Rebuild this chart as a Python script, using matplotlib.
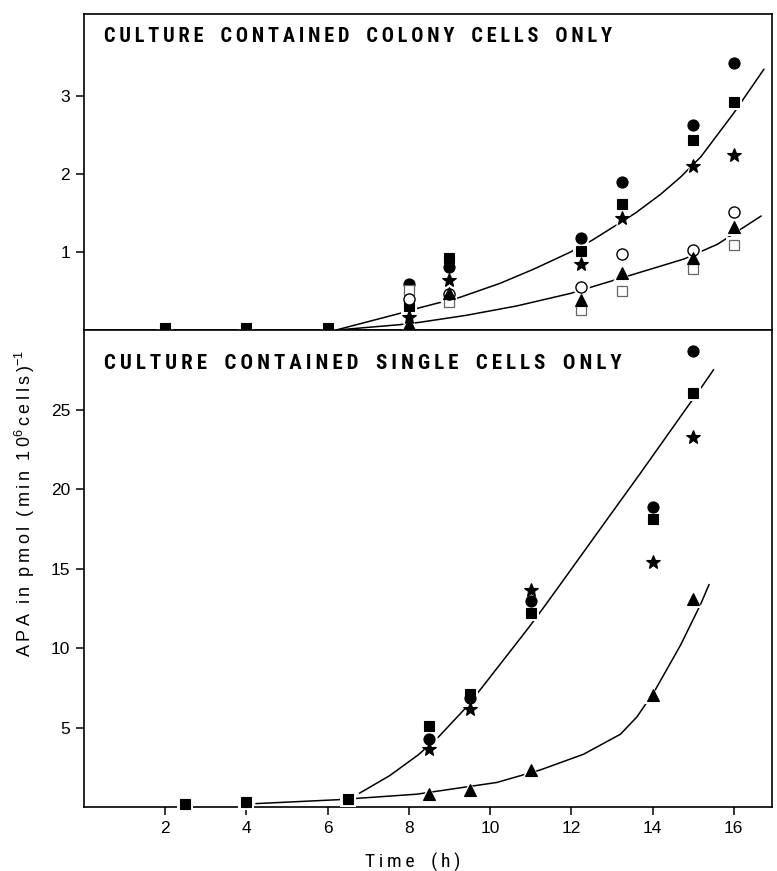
import matplotlib
matplotlib.use("Agg")
import matplotlib.pyplot as plt
import matplotlib.font_manager as fm

plt.rcParams['font.family'] = ['Liberation Sans', 'DejaVu Sans']
plt.rcParams['mathtext.fontset'] = 'custom'
plt.rcParams['mathtext.rm'] = 'Liberation Sans'
plt.rcParams['mathtext.it'] = 'Liberation Sans:italic'

# ---- top panel: colony cells ----
top_sq_time = [2, 4, 6, 8, 9, 12.25, 13.25, 15, 16]
top_sq = [0.03, 0.03, 0.03, 0.31, 0.92, 1.01, 1.61, 2.43, 2.92]
top_time = [8, 9, 12.25, 13.25, 15, 16]
top_circ = [0.59, 0.81, 1.18, 1.90, 2.63, 3.42]
top_osq = [0.51, 0.36, 0.26, 0.50, 0.78, 1.09]
top_ocirc = [0.40, 0.46, 0.55, 0.97, 1.03, 1.51]
top_star = [0.17, 0.64, 0.85, 1.44, 2.10, 2.24]
top_tri = [0.08, 0.48, 0.39, 0.73, 0.92, 1.32]

top_fit1_x = [6.2, 7.82, 8.22, 9.26, 10.25, 11.07, 11.98, 12.51, 13.58, 14.2, 14.69, 15.19, 16.0, 16.74]
top_fit1_y = [0.0, 0.22, 0.28, 0.42, 0.60, 0.78, 1.00, 1.15, 1.50, 1.74, 1.96, 2.22, 2.78, 3.34]
top_fit2_x = [6.2, 7.78, 8.27, 9.42, 10.66, 11.98, 12.55, 13.25, 14.77, 15.6, 16.67]
top_fit2_y = [0.0, 0.07, 0.10, 0.19, 0.31, 0.47, 0.56, 0.67, 0.91, 1.10, 1.46]

# ---- bottom panel: single cells ----
bot_sq_time = [2.5, 4, 6.5, 8.5, 9.5, 11, 14, 15]
bot_sq = [0.23, 0.31, 0.50, 5.11, 7.1, 12.21, 18.14, 26.06]
bot_time = [8.5, 9.5, 11, 14, 15]
bot_circ = [4.32, 6.89, 12.99, 18.87, 28.67]
bot_star = [3.69, 6.18, 13.69, 15.42, 23.26]
bot_tri = [0.82, 1.08, 2.36, 7.07, 13.1]

bot_fit1_x = [6.79, 7.53, 8.23, 8.72, 9.38, 9.79, 10.95, 11.3, 11.81, 12.88, 13.7, 14.81, 15.23, 15.5]
bot_fit1_y = [0.90, 2.0, 3.3, 4.4, 6.2, 7.5, 11.3, 12.5, 14.3, 18.1, 21.0, 25.0, 26.5, 27.5]
bot_fit2_x = [4.24, 6.38, 6.79, 8.19, 10.17, 11.23, 12.3, 13.21, 13.62, 14.07, 14.69, 15.19, 15.39]
bot_fit2_y = [0.24, 0.50, 0.58, 0.83, 1.57, 2.35, 3.34, 4.6, 5.7, 7.4, 10.2, 12.8, 14.0]

x_ticks = [2, 4, 6, 8, 10, 12, 14, 16]
top_yticks = [1, 2, 3]
bot_yticks = [5, 10, 15, 20, 25]


def narrow_font():
    # look for a condensed sans; fall back to plain Liberation Sans
    for fam in ['Liberation Sans Narrow', 'DejaVu Sans Condensed', 'Roboto Condensed',
                'Open Sans Condensed', 'Noto Sans Condensed']:
        try:
            fm.findfont(fm.FontProperties(family=fam), fallback_to_default=False)
            return dict(family=fam)
        except ValueError:
            pass
    for fam in ['Noto Sans', 'DejaVu Sans', 'Roboto', 'Open Sans']:
        p = fm.FontProperties(family=fam, stretch='condensed', weight='bold')
        try:
            f = fm.findfont(p, fallback_to_default=False)
        except ValueError:
            continue
        if 'ondensed' in f or 'arrow' in f:
            return dict(family=fam, stretch='condensed')
    return None


NARROW = narrow_font()


def spaced(s, sep='\u2009'):
    return sep.join(s).replace(sep + ' ' + sep, sep + '  ' + sep)


def pts(ax, x, y, marker, ms, face='black', edge='black', mew=0.8):
    # white halo first so the fitted curves look broken around the symbols
    ax.plot(x, y, ls='none', marker=marker, ms=ms + 4, mfc='white', mec='white',
            mew=0, zorder=3, clip_on=False)
    ax.plot(x, y, ls='none', marker=marker, ms=ms, mfc=face, mec=edge,
            mew=mew, zorder=4, clip_on=False)


fig = plt.figure(figsize=(7.77, 8.71), dpi=100)
left, width = 0.108, 0.886
ax1 = fig.add_axes([left, 0.621, width, 0.363])
ax2 = fig.add_axes([left, 0.073, width, 0.548])

if NARROW:
    title_font = dict(fontweight=600, **NARROW)
    label_font = dict(fontsize=14, fontweight='normal', **NARROW)
    top_title = spaced('CULTURE CONTAINED COLONY CELLS ONLY')
    bot_title = spaced('CULTURE CONTAINED SINGLE CELLS ONLY')
    top_size, bot_size = 14.6, 15.0
else:
    title_font = dict(fontweight='bold')
    label_font = dict(fontsize=13)
    top_title = spaced('CULTURE CONTAINED COLONY CELLS ONLY', '\u200a')
    bot_title = spaced('CULTURE CONTAINED SINGLE CELLS ONLY', '\u200a')
    top_size, bot_size = 13, 13.3

# top panel
ax1.plot(top_fit1_x, top_fit1_y, color='black', lw=1.1, zorder=2)
ax1.plot(top_fit2_x, top_fit2_y, color='black', lw=1.1, zorder=2)
pts(ax1, top_sq_time, top_sq, 's', 7.5)
pts(ax1, top_time, top_circ, 'o', 8)
pts(ax1, top_time, top_osq, 's', 7.5, face='white', edge='#666666', mew=0.9)
pts(ax1, top_time, top_ocirc, 'o', 8, face='white', edge='black', mew=1.0)
pts(ax1, top_time, top_star, '*', 10)
pts(ax1, top_time, top_tri, '^', 9)
ax1.set_xlim(0, 16.95)
ax1.set_ylim(0, 4.05)
ax1.set_yticks(top_yticks)
ax1.set_xticks(x_ticks)
ax1.set_xticklabels([])
ax1.text(0.029, 0.93, top_title, transform=ax1.transAxes,
         ha='left', va='center', fontsize=top_size, **title_font)

# bottom panel
ax2.plot(bot_fit1_x, bot_fit1_y, color='black', lw=1.1, zorder=2)
ax2.plot(bot_fit2_x, bot_fit2_y, color='black', lw=1.1, zorder=2)
pts(ax2, bot_sq_time, bot_sq, 's', 7.5)
pts(ax2, bot_time, bot_circ, 'o', 8)
pts(ax2, bot_time, bot_star, '*', 10)
pts(ax2, bot_time, bot_tri, '^', 9)
ax2.set_xlim(0, 16.95)
ax2.set_ylim(0, 30)
ax2.set_yticks(bot_yticks)
ax2.set_xticks(x_ticks)
ax2.text(0.029, 0.931, bot_title, transform=ax2.transAxes,
         ha='left', va='center', fontsize=bot_size, **title_font)

for ax in (ax1, ax2):
    for sp in ax.spines.values():
        sp.set_linewidth(1.2)
    ax.tick_params(direction='out', length=6, width=1.1, labelsize=12.5, pad=4)

ax2.set_xlabel(spaced('Time (h)'), **label_font)
ax2.xaxis.set_label_coords(0.478, -0.095)
fig.text(0.032, 0.4225,
         '\u2009'.join('APA') + '  i\u2009n  p\u2009m\u2009o\u2009l  (\u2009m\u2009i\u2009n  1\u20090$^{6}$\u2009c\u2009e\u2009l\u2009l\u2009s\u2009)$^{-1}$',
         rotation=90, ha='center', va='center', fontsize=13)

fig.savefig('out.png', dpi=100)
